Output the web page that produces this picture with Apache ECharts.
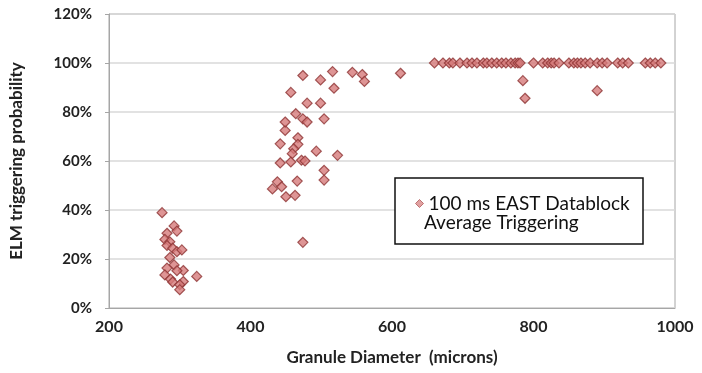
<!DOCTYPE html>
<html>
<head>
<meta charset="utf-8">
<script src="https://cdn.jsdelivr.net/npm/echarts@6/dist/echarts.min.js"></script>
<style>
    html, body {margin: 0; padding: 0; background: #fff;}
    #chart {width: 702px; height: 373px;}
</style>
</head>
<body>
<div id="chart"></div>
<script>
// granule diameter (microns) and ELM triggering probability (%)
const smallX = [275, 292, 296, 282, 279, 286, 282, 290, 296, 303, 286, 292, 282, 305, 296, 279, 324, 287, 290, 305, 300, 300];
const smallY = [38.9, 33.5, 31.4, 30.5, 28, 27, 25.5, 24.4, 23, 23.7, 20.6, 17.6, 16.3, 15.3, 15.2, 13.5, 12.9, 11.8, 10.6, 10.8, 9.5, 7.5];

const midX = [431, 438, 444, 450, 463, 442, 442, 449, 449, 457, 464, 467, 467, 461, 459, 457, 472, 477, 466, 474, 480, 474, 480, 474, 493, 499, 499, 504, 504, 504, 516, 518, 523, 544, 558, 561, 612];
const midY = [48.6, 51.5, 49.5, 45.4, 46, 67, 59.2, 72.5, 75.9, 88, 79.3, 69.5, 66.8, 65, 63, 59.6, 60.3, 60, 51.8, 94.9, 83.6, 77.2, 75.9, 26.8, 64, 93.1, 83.6, 77.2, 56.2, 52.2, 96.5, 89.7, 62.3, 96.2, 95.3, 92.5, 95.8];

const bigX = [660, 672, 681, 686, 696, 706, 713, 720, 729, 734, 741, 748, 755, 761, 768, 774, 778, 781, 785, 788, 800, 813, 820, 825, 829, 836, 850, 857, 862, 867, 873, 880, 890, 890, 897, 904, 919, 926, 934, 958, 965, 972, 980];
const bigY = [100, 100, 100, 100, 100, 100, 100, 100, 100, 100, 100, 100, 100, 100, 100, 100, 100, 100, 92.8, 85.6, 100, 100, 100, 100, 100, 100, 100, 100, 100, 100, 100, 100, 100, 88.7, 100, 100, 100, 100, 100, 100, 100, 100, 100];

const xTicks = [200, 400, 600, 800, 1000];
const yTicks = [0, 20, 40, 60, 80, 100, 120];

const seriesName = '100 ms EAST Datablock';
const seriesName2 = 'Average Triggering';

let points = [];
[[smallX, smallY], [midX, midY], [bigX, bigY]].forEach(function (pair) {
    for (let i = 0; i < pair[0].length; i++) {
        points.push([pair[0][i], pair[1][i]]);
    }
});

const myChart = echarts.init(document.getElementById('chart'));

const font = 'Lato, "Open Sans", sans-serif';

const option = {
    animation: false,
    textStyle: {fontFamily: font},
    grid: {left: 109, right: 27, top: 14, bottom: 65, show: true, borderColor: '#a6a6a6', borderWidth: 1},
    legend: {
        left: 410,
        top: 189,
        data: [seriesName],
        icon: 'diamond',
        itemWidth: 8,
        itemHeight: 8,
        itemGap: 6,
        itemStyle: {color: '#d98a8a', borderColor: '#b05a5a', borderWidth: 1},
        textStyle: {fontFamily: font, fontSize: 19, color: '#111'},
    },
    graphic: [
        {
            type: 'rect',
            shape: {x: 395, y: 178, width: 248, height: 66},
            style: {fill: '#fff', stroke: '#111', lineWidth: 1.5},
            z: 1,
        },
        {
            type: 'text',
            left: 424,
            top: 213,
            style: {text: seriesName2, font: '19px ' + font, fill: '#111'},
            z: 10,
        },
    ],
    xAxis: {
        type: 'value',
        min: xTicks[0],
        max: xTicks[xTicks.length - 1],
        interval: 200,
        name: 'Granule Diameter  (microns)',
        nameLocation: 'middle',
        nameGap: 41,
        nameTextStyle: {fontFamily: font, fontSize: 17, fontWeight: 'bold', color: '#222'},
        axisLine: {show: true, lineStyle: {color: '#a6a6a6'}},
        axisTick: {show: false},
        splitLine: {show: false},
        axisLabel: {fontFamily: font, fontSize: 16, fontWeight: 'bold', color: '#222', margin: 11, formatter: function (v) { return String(v); }},
    },
    yAxis: {
        type: 'value',
        min: yTicks[0],
        max: yTicks[yTicks.length - 1],
        interval: 20,
        name: 'ELM triggering probability',
        nameLocation: 'middle',
        nameGap: 84,
        nameTextStyle: {fontFamily: font, fontSize: 17, fontWeight: 'bold', color: '#222'},
        axisLine: {show: true, lineStyle: {color: '#a6a6a6'}},
        axisTick: {show: true, length: 4, lineStyle: {color: '#a6a6a6'}},
        splitLine: {show: true, lineStyle: {color: '#d9d9d9', width: 1.5}},
        axisLabel: {fontFamily: font, fontSize: 15, fontWeight: 'bold', color: '#222', margin: 17, formatter: '{value}%'},
    },
    series: [{
        name: seriesName,
        type: 'scatter',
        symbol: 'diamond',
        symbolSize: 10,
        itemStyle: {color: '#d67b7b', borderColor: '#8e3434', borderWidth: 1.2},
        data: points,
        z: 5,
    }],
};
myChart.setOption(option);
</script>
</body>
</html>
